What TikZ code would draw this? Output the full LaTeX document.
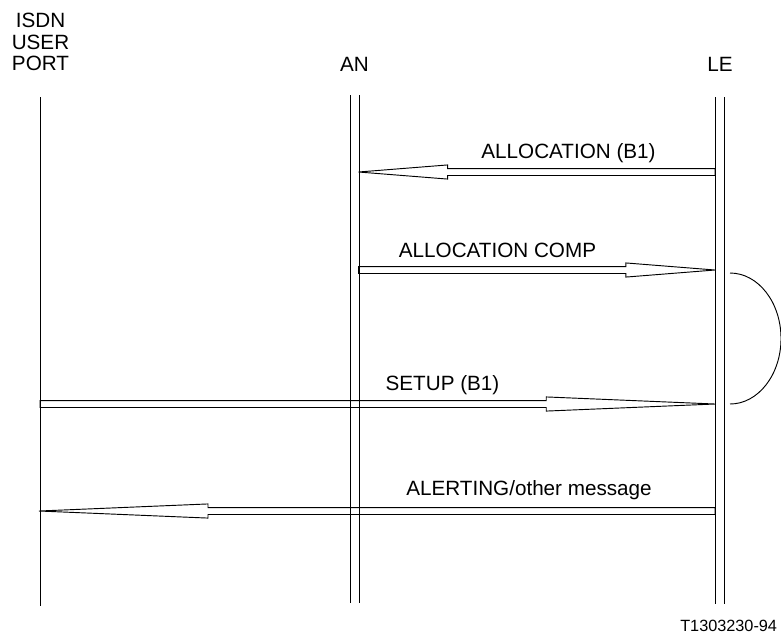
\documentclass[tikz,border=0pt]{standalone}
\usepackage{fontspec}
\setmainfont{Liberation Sans}
\usetikzlibrary{calc}

\tikzset{
    lifeline/.style={draw=black, line width=0.7pt},
    msgarrow/.style={draw=black, line width=0.7pt, line join=miter, to path={
        let \p1=(\tikztostart), \p2=(\tikztotarget), \n1={\x2-0.25*(\x2-\x1)} in
        (\x1,\y1+2.6pt) -- ({\n1*1pt},\y1+2.6pt) -- ({\n1*1pt},\y1+5.3pt) -- (\x2,\y2)
        -- ({\n1*1pt},\y1-5.3pt) -- ({\n1*1pt},\y1-2.6pt) -- (\x1,\y1-2.6pt) -- cycle}},
    msglabel/.style={anchor=base}
}

\begin{document}
\begin{tikzpicture}[x=0.75pt, y=-0.75pt, every node/.style={font=\fontsize{15.5}{16.1}\selectfont, inner sep=0pt}]
    \useasboundingbox (0,0) rectangle (781,633);

    % Entities
    \node[anchor=north, align=center] (port) at (40.5,13) {ISDN\\USER\\PORT};
    \node[anchor=base] (an) at (354.5,71) {AN};
    \node[anchor=base] (le) at (720,71) {LE};

    % Lifelines
    \coordinate (port-top) at (40.5,97);
    \coordinate (port-bot) at (40.5,606);
    \coordinate (an-top) at (354.5,95);
    \coordinate (an-bot) at (354.5,603);
    \coordinate (le-top) at (719.5,97);
    \coordinate (le-bot) at (719.5,604);
    \draw[lifeline] (port-top) -- (port-bot);
    \draw[lifeline] ([xshift=-3.4pt]an-top) -- ([xshift=-3.4pt]an-bot);
    \draw[lifeline] ([xshift=3.4pt]an-top) -- ([xshift=3.4pt]an-bot);
    \draw[lifeline] ([xshift=-3.4pt]le-top) -- ([xshift=-3.4pt]le-bot);
    \draw[lifeline] ([xshift=3.4pt]le-top) -- ([xshift=3.4pt]le-bot);

    % ALLOCATION (B1): LE -> AN
    \coordinate (alloc-le) at (715,172);
    \coordinate (alloc-an) at (358.5,172);
    \draw[msgarrow] (alloc-le) to (alloc-an);
    \node[msglabel] (alloc) at (568.5,158) {ALLOCATION (B1)};

    % ALLOCATION COMP: AN -> LE
    \coordinate (comp-an) at (358.5,270);
    \coordinate (comp-le) at (715,270);
    \draw[msgarrow] (comp-an) to (comp-le);
    \node[msglabel] (comp) at (497.5,257) {ALLOCATION COMP};

    % SETUP (B1): user port -> LE
    \coordinate (setup-port) at (40,404);
    \coordinate (setup-le) at (715,404);
    \draw[msgarrow] (setup-port) to (setup-le);
    \node[msglabel] (setup) at (442.5,390) {SETUP (B1)};

    % ALERTING: LE -> user port
    \coordinate (alert-le) at (715,511);
    \coordinate (alert-port) at (39,511);
    \draw[msgarrow] (alert-le) to (alert-port);
    \node[msglabel] (alert) at (529,495) {ALERTING/other message};

    % Timer arc at LE
    \coordinate (arc-top) at (730,273);
    \draw[lifeline] (arc-top) arc[start angle=-90, end angle=90, x radius=51, y radius=65.5];

    \node[anchor=base west, font=\fontsize{12.2}{14}\selectfont] (figid) at (680,631) {T1303230-94};
\end{tikzpicture}
\end{document}
